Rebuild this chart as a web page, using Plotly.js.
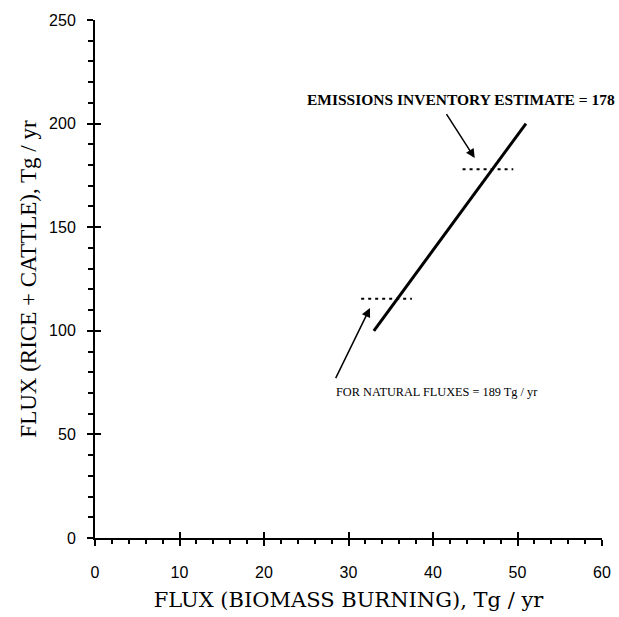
<!DOCTYPE html>
<html>
<head>
<meta charset="utf-8">
<script src="https://cdn.plot.ly/plotly-3.0.1.min.js"></script>
<style>html,body{margin:0;padding:0;background:#fff;}</style>
</head>
<body>
<div id="chart" style="width:619px;height:617px;"></div>
<script>
// Data
const fitX = [33, 51];
const fitY = [100, 200];
const inventoryX = [43.5, 49.5];
const inventoryY = [178, 178];
const naturalX = [31.5, 37.5];
const naturalY = [115.5, 115.5];
const xTickVals = [0, 10, 20, 30, 40, 50, 60];
const yTickVals = [0, 50, 100, 150, 200, 250];
const labelInventory = "EMISSIONS INVENTORY ESTIMATE = 178";
const labelNatural = "FOR NATURAL FLUXES = 189 Tg / yr";

const traces = [
  {x: fitX, y: fitY, mode: 'lines', line: {color: '#000', width: 3}, hoverinfo: 'skip'},
  {x: inventoryX, y: inventoryY, mode: 'lines', line: {color: '#000', width: 2, dash: '3px,4px'}, hoverinfo: 'skip'},
  {x: naturalX, y: naturalY, mode: 'lines', line: {color: '#000', width: 2, dash: '3px,4px'}, hoverinfo: 'skip'},
  // invisible trace on overlay axes so the inner tick marks render
  {x: [0], y: [0], xaxis: 'x2', yaxis: 'y2', mode: 'markers', marker: {opacity: 0}, hoverinfo: 'skip'}
];

const tickFont = {family: 'Liberation Sans, Arial, sans-serif', size: 16, color: '#000'};
const serif = 'Liberation Serif, Times New Roman, serif';

const layout = {
  width: 619, height: 617,
  margin: {l: 94.5, r: 16.5, t: 20, b: 79},
  paper_bgcolor: '#fff', plot_bgcolor: '#fff',
  showlegend: false,
  xaxis: {
    range: [0, 60], tickvals: xTickVals, ticks: 'outside', ticklen: 6, tickwidth: 2, tickcolor: '#000',
    minor: {dtick: 2, ticks: 'outside', ticklen: 4, tickwidth: 2, tickcolor: '#000'},
    showline: true, linewidth: 2, linecolor: '#000', showgrid: false, zeroline: false,
    tickfont: tickFont, ticklabelstandoff: 13,
    title: {text: 'FLUX (BIOMASS BURNING), Tg / yr', font: {family: 'DejaVu Serif, serif', size: 21, color: '#000'}, standoff: 12}
  },
  yaxis: {
    range: [0, 250], tickvals: yTickVals, ticks: 'outside', ticklen: 6, tickwidth: 2, tickcolor: '#000',
    minor: {dtick: 10, ticks: 'outside', ticklen: 5, tickwidth: 2, tickcolor: '#000'},
    showline: true, linewidth: 2, linecolor: '#000', showgrid: false, zeroline: false,
    tickfont: tickFont, ticklabelstandoff: 8,
    title: {text: 'FLUX (RICE + CATTLE), Tg / yr', font: {family: serif, size: 23, color: '#000'}, standoff: 6}
  },
  xaxis2: {
    overlaying: 'x', anchor: 'y2', range: [0, 60], tickvals: xTickVals, ticks: 'inside', ticklen: 6, tickwidth: 2,
    tickcolor: '#000', showticklabels: false, showgrid: false, zeroline: false, showline: false
  },
  yaxis2: {
    overlaying: 'y', anchor: 'x2', range: [0, 250], tickvals: yTickVals, ticks: 'inside', ticklen: 6, tickwidth: 2,
    tickcolor: '#000', showticklabels: false, showgrid: false, zeroline: false, showline: false
  },
  annotations: [
    {text: '<b>' + labelInventory + '</b>', xref: 'x', yref: 'y', x: 24.8, y: 211.5, xanchor: 'left', yanchor: 'middle',
     showarrow: false, font: {family: serif, size: 15.5, color: '#000'}},
    {text: labelNatural, xref: 'x', yref: 'y', x: 28.3, y: 70.6, xanchor: 'left', yanchor: 'middle',
     showarrow: false, font: {family: serif, size: 12.3, color: '#000'}},
    {text: '', xref: 'x', yref: 'y', x: 44.94, y: 183.4, axref: 'x', ayref: 'y', ax: 41.48, ay: 205.3,
     showarrow: true, arrowhead: 2, arrowsize: 1.2, arrowwidth: 1.5, arrowcolor: '#000'},
    {text: '', xref: 'x', yref: 'y', x: 32.54, y: 111.0, axref: 'x', ayref: 'y', ax: 28.4, ay: 76.4,
     showarrow: true, arrowhead: 2, arrowsize: 1.2, arrowwidth: 1.5, arrowcolor: '#000'}
  ]
};

Plotly.newPlot('chart', traces, layout, {staticPlot: true, displayModeBar: false});
</script>
</body>
</html>
